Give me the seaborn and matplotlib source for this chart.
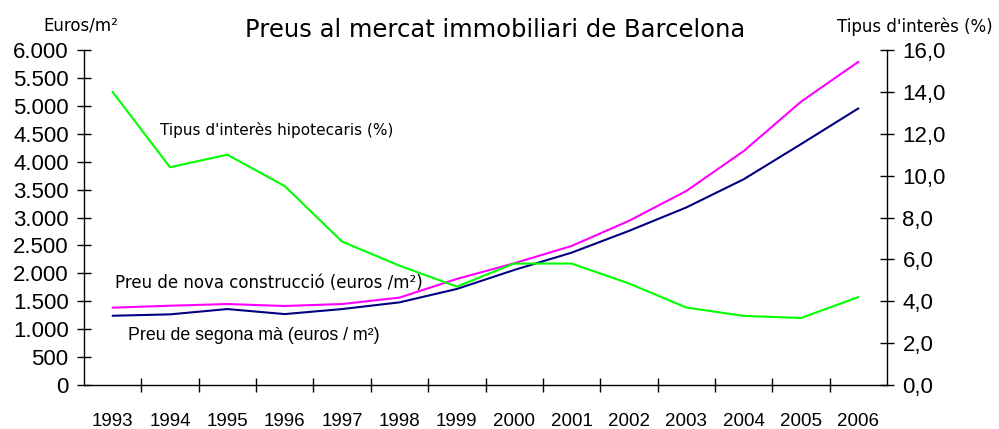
import matplotlib
matplotlib.use("Agg")
import matplotlib.pyplot as plt
import matplotlib.ticker as mticker
import pandas as pd
import seaborn as sns

years = [1993, 1994, 1995, 1996, 1997, 1998, 1999, 2000, 2001, 2002, 2003, 2004, 2005, 2006]
preu_nova = [1385, 1420, 1450, 1415, 1450, 1565, 1900, 2180, 2490, 2940, 3475, 4190, 5075, 5790]
preu_segona = [1240, 1265, 1360, 1270, 1360, 1480, 1720, 2060, 2370, 2760, 3180, 3685, 4315, 4955]
tipus = [14.0, 10.4, 11.0, 9.5, 6.85, 5.7, 4.7, 5.8, 5.8, 4.85, 3.7, 3.3, 3.2, 4.2]

df = pd.DataFrame({"any": years, "nova": preu_nova, "segona": preu_segona, "tipus": tipus})

sns.set_style("ticks")
plt.rcParams["font.family"] = ["Liberation Sans", "DejaVu Sans"]
plt.rcParams["text.color"] = "black"
plt.rcParams["xtick.color"] = "black"
plt.rcParams["ytick.color"] = "black"
plt.rcParams["xtick.labelcolor"] = "black"
plt.rcParams["ytick.labelcolor"] = "black"

fig = plt.figure(figsize=(9.99, 4.29), dpi=100)
ax = fig.add_axes([0.084, 0.1026, 0.804, 0.7808])
ax2 = ax.twinx()

sns.lineplot(data=df, x="any", y="nova", ax=ax, color="#ff00ff", lw=1.5)
sns.lineplot(data=df, x="any", y="segona", ax=ax, color="#000080", lw=1.5)
sns.lineplot(data=df, x="any", y="tipus", ax=ax2, color="#00ff00", lw=1.5)

ax.set_xlim(years[0] - 0.5, years[-1] + 0.5)
ax.set_ylim(0, 6000)
ax2.set_ylim(0, 16)

ax.set_xticks(years)
ax.set_xticklabels([str(y) for y in years])
ax.set_xticks([y + 0.5 for y in years[:-1]], minor=True)
ax.tick_params(axis="x", which="major", length=0, pad=20, labelsize=13.5)
ax.tick_params(axis="x", which="minor", direction="inout", length=10, width=1, color="black")

ax.set_yticks(range(0, 6001, 500))
ax.yaxis.set_major_formatter(mticker.FuncFormatter(lambda v, p: f"{int(v):,}".replace(",", ".")))
ax.tick_params(axis="y", direction="inout", length=10, width=1, color="black", pad=6, labelsize=16)

ax2.set_yticks([0, 2, 4, 6, 8, 10, 12, 14, 16])
ax2.yaxis.set_major_formatter(mticker.FuncFormatter(lambda v, p: f"{v:.1f}".replace(".", ",")))
ax2.tick_params(axis="y", direction="inout", length=10, width=1, color="black", pad=6, labelsize=16)

for a in (ax, ax2):
    a.set_xlabel("")
    a.set_ylabel("")
    a.spines["top"].set_visible(False)
    for s in ("left", "right", "bottom"):
        a.spines[s].set_color("black")
        a.spines[s].set_linewidth(1)
ax.spines["right"].set_visible(False)
ax2.spines["left"].set_visible(False)
ax2.spines["bottom"].set_visible(False)

fig.text(0.496, 0.93, "Preus al mercat immobiliari de Barcelona", ha="center", va="center",
         fontsize=17.5, family="DejaVu Sans")
fig.text(0.081, 0.94, "Euros/m²", ha="center", va="center", fontsize=12, family="DejaVu Sans")
fig.text(0.916, 0.937, "Tipus d'interès (%)", ha="center", va="center", fontsize=12, family="DejaVu Sans")

ax.text(1993.83, 4560, "Tipus d'interès hipotecaris (%)", fontsize=11, family="DejaVu Sans", va="center")
ax.text(1993.05, 1830, "Preu de nova construcció (euros /m²)", fontsize=12, family="DejaVu Sans", va="center")
ax.text(1993.27, 880, "Preu de segona mà (euros / m²)", fontsize=12.8, va="center")

fig.savefig("out.png", dpi=100)
